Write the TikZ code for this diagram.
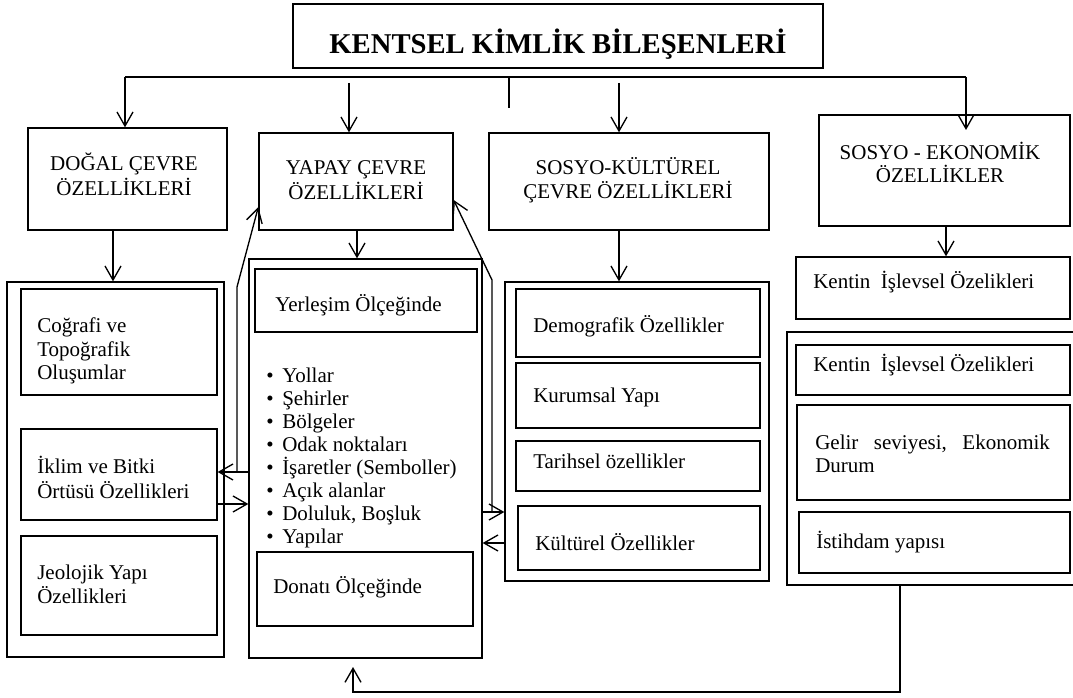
\documentclass[tikz,border=0pt]{standalone}
\usepackage{fontspec}
\setmainfont{Liberation Serif}
\usetikzlibrary{arrows.meta,fit}
\tikzset{
  box/.style={draw, line width=1pt, inner sep=0pt, fit={#1}},
  ln/.style={line width=1pt},
  arr/.style={line width=1pt, -{Straight Barb[length=10.5pt,width=12pt,line width=1pt]}},
  txt/.style={inner sep=0pt, anchor=west, align=left, font=\fontsize{15.75}{18}\selectfont},
  hdr/.style={inner sep=0pt, align=center, font=\fontsize{15.75}{18.4}\selectfont},
}
\begin{document}
\begin{tikzpicture}[x=0.75pt,y=-0.75pt]
\useasboundingbox (0,0) rectangle (1073,698);
\fill[white] (0,0) rectangle (1073,698);

% title
\node[box={(293,4)(823,68)}] (title) {};
\node[inner sep=0pt, anchor=base, font=\bfseries\fontsize{21.5}{24}\selectfont] (ttxt) at (558,54) {KENTSEL KİMLİK BİLEŞENLERİ};

% level 1 boxes
\node[box={(28,128)(227,230)}] (dogal) {};
\node[hdr, font=\fontsize{15.75}{18.75}\selectfont] (dogalt) at (124,174) {DOĞAL ÇEVRE\\ÖZELLİKLERİ};
\node[box={(259,133)(453,230)}] (yapay) {};
\node[hdr] (yapayt) at (356,180) {YAPAY ÇEVRE\\ÖZELLİKLERİ};
\node[box={(489,133)(769,230)}] (sk) {};
\node[hdr] (skt) at (628,180) {SOSYO-KÜLTÜREL\\ÇEVRE ÖZELLİKLERİ};
\node[box={(819,115)(1070,226)}] (se) {};
\node[hdr, font=\fontsize{15.75}{17.25}\selectfont] (set) at (940,162) {SOSYO - EKONOMİK\\ÖZELLİKLER};

% left container
\node[box={(7,282)(224,657)}] (leftc) {};
\node[box={(21,289)(217,395)}] (cog) {};
\node[txt, font=\fontsize{15.75}{17.6}\selectfont] (cogt) at (37,351) {Coğrafi ve\\Topoğrafik\\Oluşumlar};
\node[box={(21,429)(217,520)}] (iklim) {};
\node[txt, font=\fontsize{15.75}{18.75}\selectfont] (iklimt) at (37,477) {İklim ve Bitki\\Örtüsü Özellikleri};
\node[box={(21,536)(217,635)}] (jeo) {};
\node[txt] (jeot) at (37,584) {Jeolojik Yapı\\Özellikleri};

% middle container
\node[box={(249,259)(482,658)}] (midc) {};
\node[box={(255,269)(477,332)}] (yer) {};
\node[txt] (yert) at (275,305) {Yerleşim Ölçeğinde};
\node[txt, font=\fontsize{15.75}{17.25}\selectfont] (bul) at (266,458) {%
\makebox[12pt][l]{\textbullet}Yollar\\
\makebox[12pt][l]{\textbullet}Şehirler\\
\makebox[12pt][l]{\textbullet}Bölgeler\\
\makebox[12pt][l]{\textbullet}Odak noktaları\\
\makebox[12pt][l]{\textbullet}İşaretler (Semboller)\\
\makebox[12pt][l]{\textbullet}Açık alanlar\\
\makebox[12pt][l]{\textbullet}Doluluk, Boşluk\\
\makebox[12pt][l]{\textbullet}Yapılar};
\node[box={(257,552)(473,626)}] (don) {};
\node[txt] (dont) at (273,587) {Donatı Ölçeğinde};

% socio-cultural container
\node[box={(505,282)(769,581)}] (kc) {};
\node[box={(516,289)(760,357)}] (dem) {};
\node[txt] (demt) at (533,326) {Demografik Özellikler};
\node[box={(516,363)(760,428)}] (kur) {};
\node[txt] (kurt) at (533,397) {Kurumsal Yapı};
\node[box={(516,441)(760,491)}] (tar) {};
\node[txt] (tart) at (533,461) {Tarihsel özellikler};
\node[box={(518,506)(760,570)}] (kul) {};
\node[txt] (kult) at (535,542) {Kültürel Özellikler};

% socio-economic
\node[box={(796,257)(1070,319)}] (ken) {};
\node[txt] (kent) at (813,282) {Kentin\ \ İşlevsel Özelikleri};
\node[box={(787,332)(1076,585)}] (rc) {};
\node[box={(796,345)(1070,395)}] (ken2) {};
\node[txt] (ken2t) at (813,365) {Kentin\ \ İşlevsel Özelikleri};
\node[box={(797,405)(1070,500)}] (gel) {};
\node[txt, font=\fontsize{15.75}{17.25}\selectfont] (gelt) at (815,454) {\hbox to 176pt{Gelir\hfill seviyesi,\hfill Ekonomik}\\Durum};
\node[box={(799,512)(1070,573)}] (ist) {};
\node[txt] (istt) at (816,542) {İstihdam yapısı};

% top connectors
\coordinate (hl) at (125,77);
\coordinate (hr) at (966,77);
\draw[ln] (hl) -- (hr);
\draw[arr] (hl) -- (hl |- dogal.north);
\coordinate (s2) at (349,83);
\draw[arr] (s2) -- (s2 |- yapay.north);
\coordinate (stubT) at (509,77);
\coordinate (stubB) at (509,108);
\draw[ln] (stubT) -- (stubB);
\coordinate (s3) at (619,83);
\draw[arr] (s3) -- (s3 |- sk.north);
\coordinate (e4) at (966,130);
\draw[arr] (hr) -- (e4);

% down connectors
\coordinate (d1) at (113,0);
\draw[arr] (d1 |- dogal.south) -- (d1 |- leftc.north);
\coordinate (d2) at (357,0);
\draw[arr] (d2 |- yapay.south) -- (d2 |- midc.north);
\coordinate (d3) at (619,0);
\draw[arr] (d3 |- sk.south) -- (d3 |- kc.north);
\coordinate (d4) at (946,0);
\draw[arr] (d4 |- se.south) -- (d4 |- ken.north);

% left side links
\coordinate (c1a) at (237,472);
\coordinate (c1b) at (237,287);
\draw[arr] (c1a) -- (c1a -| iklim.east);
\draw[arr] (c1a) -- (c1b) -- (yapay.west |- 0,207);
\draw[ln] (c1a) -- (c1a -| midc.west);
\coordinate (c2) at (0,504);
\draw[arr] (iklim.east |- c2) -- (midc.west |- c2);

% right side links
\coordinate (c3b) at (492,280);
\coordinate (c3c) at (492,512);
\draw[arr] (c3c) -- (c3b) -- (yapay.east |- 0,200);
\draw[arr] (midc.east |- c3c) -- (kc.west |- c3c);
\coordinate (c4) at (0,543);
\draw[arr] (kc.west |- c4) -- (midc.east |- c4);

% bottom feedback
\coordinate (c5a) at (900,692);
\coordinate (c5t) at (353,667);
\draw[arr] (c5a |- rc.south) -- (c5a) -- (c5t |- c5a) -- (c5t);
\end{tikzpicture}
\end{document}
